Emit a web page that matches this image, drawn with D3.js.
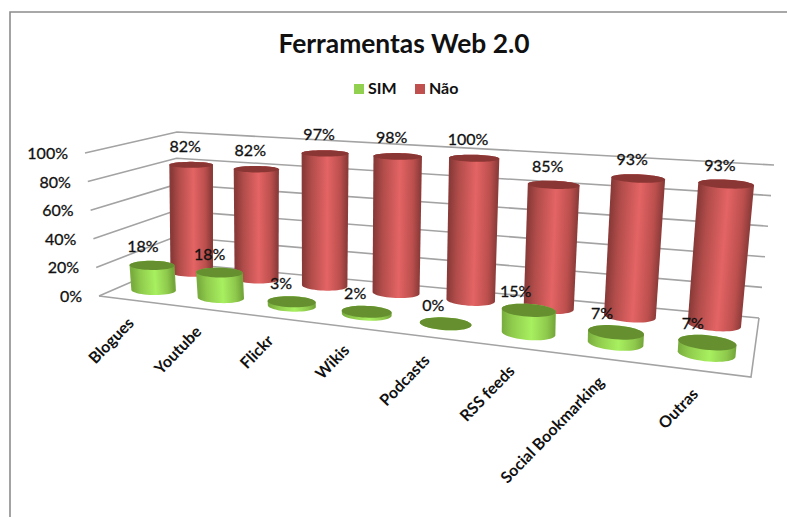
<!DOCTYPE html>
<html>
<head>
<meta charset="utf-8">
<script src="https://cdnjs.cloudflare.com/ajax/libs/d3/7.8.5/d3.min.js"></script>
<style>
html,body{margin:0;padding:0;background:#fff}
svg{display:block}
text{font-family:Lato,"Open Sans",sans-serif;fill:#111}
</style>
</head>
<body>
<svg id="chart" width="787" height="517"></svg>
<script>
var categories = ["Blogues","Youtube","Flickr","Wikis","Podcasts","RSS feeds","Social Bookmarking","Outras"];
var simValues = [18,18,3,2,0,15,7,7];
var naoValues = [82,82,97,98,100,85,93,93];
var valueTicks = [0,20,40,60,80,100];

var svg = d3.select("#chart");
var defs = svg.append("defs");

// corners of the box on screen: front left, front right, back right, back left
var floorQuad = [[99,296],[751,377],[759,318],[175,263]];
var roofQuad = [[85,153],[767,205],[774,165],[177,132]];

var floorMap = quadMap(floorQuad);
var roofMap = quadMap(roofQuad);

var xScale = d3.scaleBand().domain(categories).range([0,1]);
var vScale = d3.scaleLinear().domain([0,100]).range([0,1]);
var zScale = d3.scaleOrdinal().domain(["SIM","Não"]).range([0.27,0.79]);

var radiusX = xScale.bandwidth()*0.31;
var radiusZ = 0.12;
var barShrink = 0.975; // bars stop a bit under the gridlines

// unit square -> quad, the usual projective formula
function quadMap(q){
  var dx1 = q[1][0]-q[2][0], dx2 = q[3][0]-q[2][0], sx = q[0][0]-q[1][0]+q[2][0]-q[3][0];
  var dy1 = q[1][1]-q[2][1], dy2 = q[3][1]-q[2][1], sy = q[0][1]-q[1][1]+q[2][1]-q[3][1];
  var den = dx1*dy2-dx2*dy1;
  var g = (sx*dy2-dx2*sy)/den, h = (dx1*sy-sx*dy1)/den;
  var a = q[1][0]-q[0][0]+g*q[1][0], b = q[3][0]-q[0][0]+h*q[3][0], c = q[0][0];
  var d = q[1][1]-q[0][1]+g*q[1][1], e = q[3][1]-q[0][1]+h*q[3][1], f = q[0][1];
  return function(u,w){
    var k = g*u+h*w+1;
    return [(a*u+b*w+c)/k,(d*u+e*w+f)/k];
  };
}

function project(x,z,v){
  var u = x+0.18*x*(1-x); // the corners alone overdo the x perspective
  var p0 = floorMap(u,z), p1 = roofMap(u,z), t = vScale(v);
  return [p0[0]+(p1[0]-p0[0])*t, p0[1]+(p1[1]-p0[1])*t];
}

function disc(x,z,v){
  return d3.range(48).map(function(i){
    var a = i/48*2*Math.PI;
    return project(x+radiusX*Math.cos(a), z+radiusZ*Math.sin(a), v);
  });
}

var line = d3.line();
var gridColor = "#a3a3a3";

// walls and floor
var grid = svg.append("g").attr("fill","none").attr("stroke",gridColor).attr("stroke-width",1.6);
valueTicks.forEach(function(v){
  grid.append("path").attr("d",line([project(0,0,v),project(0,1,v),project(1,1,v)]));
});
grid.append("path").attr("d",line([project(0,0,0),project(1,0,0),project(1,1,0)]));

function drawSeries(name,values,stops,topColor){
  var g = svg.append("g");
  categories.forEach(function(cat,i){
    var x = xScale(cat)+xScale.bandwidth()/2, z = zScale(name), v = values[i]*barShrink;
    var bottom = disc(x,z,0), top = disc(x,z,v);
    var c0 = project(x,z,0), c1 = project(x,z,100);
    var b1 = project(x-radiusX,z,0), b2 = project(x+radiusX,z,0);
    // gradient runs across the leaning cylinder
    var ax = c1[0]-c0[0], ay = c1[1]-c0[1], len = Math.hypot(ax,ay);
    var nx = -ay/len, ny = ax/len, w = (b2[0]-b1[0])*nx;
    var gid = "grad"+name.charCodeAt(0)+i;
    var grad = defs.append("linearGradient").attr("id",gid).attr("gradientUnits","userSpaceOnUse")
      .attr("x1",b1[0]).attr("y1",c0[1]).attr("x2",b1[0]+nx*w).attr("y2",c0[1]+ny*w);
    stops.forEach(function(s){
      grad.append("stop").attr("offset",s[0]).attr("stop-color",s[1]);
    });
    g.append("path")
      .attr("d",line(d3.polygonHull(bottom.concat(top)))+"Z")
      .attr("fill","url(#"+gid+")");
    g.append("path").attr("d",line(top)+"Z").attr("fill",topColor);
  });
}

var redStops = [[0,"#8a3a38"],[0.18,"#b04c4a"],[0.55,"#e46464"],[0.85,"#bb4f4d"],[1,"#8e3c3a"]];
var greenStops = [[0,"#79ad3e"],[0.18,"#8fca4c"],[0.55,"#a8f060"],[0.85,"#8ec84c"],[1,"#74a63a"]];
drawSeries("Não",naoValues,redStops,"#8a3634");
drawSeries("SIM",simValues,greenStops,"#668f30");

// value labels
function drawLabels(name,values,dx,dy){
  categories.forEach(function(cat,i){
    var x = xScale(cat)+xScale.bandwidth()/2;
    var p = project(x,zScale(name),values[i]*barShrink);
    svg.append("text").attr("x",p[0]+dx(i)).attr("y",p[1]+dy)
      .attr("text-anchor","middle").attr("dominant-baseline","middle")
      .attr("font-size",16).attr("stroke","#111").attr("stroke-width",0.3)
      .text(values[i]+"%");
  });
}
drawLabels("Não",naoValues,function(){return -6},-17);
drawLabels("SIM",simValues,function(i){return -9-i*0.8},-17);

// y axis labels
valueTicks.forEach(function(v){
  var p = project(0,0,v);
  svg.append("text").attr("x",p[0]-17).attr("y",p[1]+2)
    .attr("text-anchor","end").attr("dominant-baseline","middle")
    .attr("font-size",16).attr("stroke","#111").attr("stroke-width",0.3)
    .text(v+"%");
});

// category labels
categories.forEach(function(cat,i){
  var p = project(xScale(cat)+xScale.bandwidth()/2,0,0);
  svg.append("text")
    .attr("transform","translate("+(p[0]-i*0.8+3)+","+(p[1]+24)+") rotate(-46)")
    .attr("text-anchor","end").attr("font-size",16).attr("font-weight",700)
    .text(cat);
});

// title, legend, frame
svg.append("text").attr("x",404).attr("y",53).attr("text-anchor","middle")
  .attr("font-size",26.4).attr("font-weight",700).text("Ferramentas Web 2.0");

var legendNames = ["SIM","Não"];
var legendColors = ["#92d050","#c0504d"];
var legendX = d3.scaleOrdinal().domain(legendNames).range([354,415]);
legendNames.forEach(function(n,i){
  svg.append("rect").attr("x",legendX(n)).attr("y",84).attr("width",10).attr("height",10).attr("fill",legendColors[i]);
  svg.append("text").attr("x",legendX(n)+14).attr("y",94).attr("font-size",16).attr("font-weight",700).text(n);
});

svg.append("path").attr("d",line([[10,517],[10,12],[787,12]]))
  .attr("fill","none").attr("stroke","#8c8c8c").attr("stroke-width",1.6);
</script>
</body>
</html>
